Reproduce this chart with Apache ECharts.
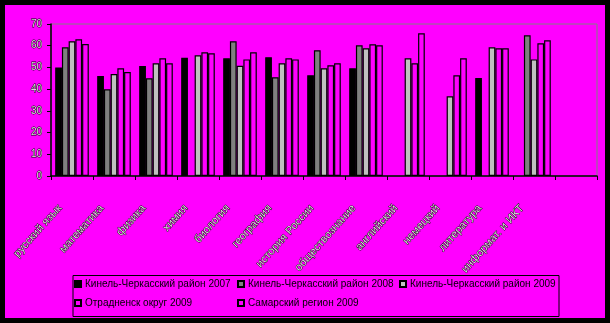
<!DOCTYPE html>
<html>
<head>
<meta charset="utf-8">
<script src="https://cdn.jsdelivr.net/npm/echarts@6/dist/echarts.min.js"></script>
<style>
  html, body { margin: 0; padding: 0; background: #000; }
  #chart { width: 610px; height: 323px; }
</style>
</head>
<body>
<div id="chart"></div>
<script>
// Subjects (the last slot is left empty on purpose)
const categories = [
  'русский язык', 'математика', 'физика', 'химия', 'биология', 'география',
  'история России', 'обществознание', 'английский', 'немецкий', 'литература',
  'информат. и ИКТ', ''
];

const seriesNames = [
  'Кинель-Черкасский район 2007',
  'Кинель-Черкасский район 2008',
  'Кинель-Черкасский район 2009',
  'Отрадненск округ 2009',
  'Самарский регион 2009'
];

// Average scores per subject
const kinel2007  = [50.0, 46.1, 50.7, 54.4, 54.2, 54.7, 46.4, 49.6, null, null, 45.1, null, null];
const kinel2008  = [59.3, 39.9, 45.0, null, 62.0, 45.5, 57.9, 60.2, null, null, null, 64.8, null];
const kinel2009  = [62.0, 47.0, 51.9, 55.6, 50.8, 51.9, 49.6, 58.8, 54.2, 36.7, 59.3, 53.7, null];
const otradny09  = [63.0, 49.6, 54.2, 57.0, 53.7, 54.2, 51.0, 60.7, 51.9, 46.4, 58.8, 61.1, null];
const samara2009 = [60.8, 47.9, 51.9, 56.5, 57.0, 53.7, 51.9, 60.2, 65.7, 54.2, 58.8, 62.5, null];

const yTicks = { min: 0, max: 70, step: 10 };

const seriesData = [kinel2007, kinel2008, kinel2009, otradny09, samara2009];
const fills = ['#000000', '#808080', '#c0c0c0', '#ff00ff', '#ff00ff'];

const labelText = {
  color: '#d8d8d8',
  textBorderColor: '#000',
  textBorderWidth: 0.8,
  fontFamily: 'Liberation Sans',
  fontSize: 10
};

const chart = echarts.init(document.getElementById('chart'), null, { renderer: 'canvas' });

// One legend block per entry so the two rows line up in columns
const legendSpots = [
  { left: 74, top: 279 },
  { left: 237, top: 279 },
  { left: 399, top: 279 },
  { left: 74, top: 298 },
  { left: 237, top: 298 }
];

const legends = seriesNames.map((name, i) => ({
  data: [name],
  left: legendSpots[i].left,
  top: legendSpots[i].top,
  padding: 0,
  itemWidth: 6,
  itemHeight: 6,
  itemGap: 4,
  icon: 'rect',
  selectedMode: false,
  textStyle: {
    color: '#000',
    fontFamily: 'Liberation Sans',
    fontSize: 10,
    padding: [0, 0, 0, -1]
  }
}));

chart.setOption({
  backgroundColor: '#000',
  animation: false,
  graphic: [
    {
      type: 'rect', silent: true, z: -100,
      shape: { x: 5, y: 5, width: 600, height: 313 },
      style: { fill: '#ff00ff' }
    },
    {
      type: 'rect', silent: true, z: -50,
      shape: { x: 73, y: 275.5, width: 486, height: 41 },
      style: { fill: 'none', stroke: '#000', lineWidth: 1 }
    }
  ],
  legend: legends,
  grid: {
    left: 51, right: 13, top: 24, bottom: 147,
    show: true,
    borderColor: '#808080',
    borderWidth: 1,
    backgroundColor: 'transparent'
  },
  xAxis: {
    type: 'category',
    data: categories,
    axisLine: { lineStyle: { color: '#000', width: 1.5 } },
    axisTick: { show: true, length: 4, lineStyle: { color: '#000', width: 1 } },
    axisLabel: Object.assign({}, labelText, {
      interval: 0,
      rotate: 48,
      margin: 17,
      fontSize: 11,
      padding: [0, 18, 0, 0]
    })
  },
  yAxis: {
    type: 'value',
    min: yTicks.min,
    max: yTicks.max,
    interval: yTicks.step,
    splitLine: { show: false },
    axisLine: { show: true, lineStyle: { color: '#000', width: 1.5 } },
    axisTick: { show: true, length: 4, lineStyle: { color: '#000', width: 1 } },
    axisLabel: Object.assign({ margin: 9 }, labelText)
  },
  series: seriesNames.map((name, i) => ({
    name: name,
    type: 'bar',
    data: seriesData[i],
    barGap: '0%',
    barCategoryGap: '20%',
    itemStyle: {
      color: fills[i],
      borderColor: '#000',
      borderWidth: 1.2
    }
  }))
});
</script>
</body>
</html>
